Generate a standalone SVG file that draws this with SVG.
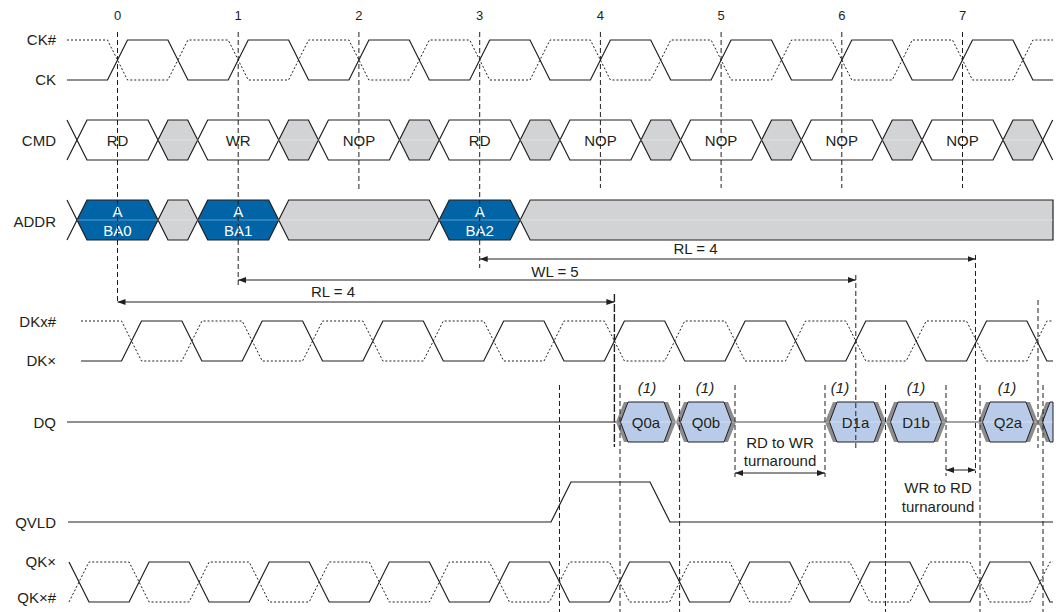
<svg xmlns="http://www.w3.org/2000/svg" width="1056" height="612" viewBox="0 0 1056 612">
<defs>
<style>
text{font-family:"Liberation Sans",Arial,sans-serif;fill:#231f20}
.lbl{font-size:15px;text-anchor:end}
.num{font-size:13px;text-anchor:middle}
.t{font-size:15px;text-anchor:middle}
.tw{font-size:15px;text-anchor:middle;fill:#ffffff}
.it{font-size:15px;text-anchor:middle;font-style:italic}
.sig{fill:none;stroke:#231f20;stroke-width:1.2}
.dot{fill:none;stroke:#231f20;stroke-width:1;stroke-dasharray:2,2}
.vd{fill:none;stroke:#231f20;stroke-width:1;stroke-dasharray:5,3}
.vk{fill:none;stroke:#231f20;stroke-width:1.4;stroke-dasharray:8,2}
.hw{fill:#ffffff;stroke:#231f20;stroke-width:1.2}
.hg{fill:#d1d3d4;stroke:#231f20;stroke-width:1.2}
.hb{fill:#0064a6;stroke:#231f20;stroke-width:1.2}
.qs{fill:#8c8c8c;stroke:none}
.qb{fill:#b8cce9;stroke:#231f20;stroke-width:1}
.arr{fill:none;stroke:#231f20;stroke-width:1;marker-start:url(#ah);marker-end:url(#ah)}
.mid{stroke:#ffffff;stroke-opacity:0.45;stroke-width:0.8}
</style>
<marker id="ah" markerUnits="userSpaceOnUse" markerWidth="8" markerHeight="6" refX="8" refY="3" orient="auto-start-reverse">
<path d="M0,0 L8,3 L0,6 z" fill="#231f20"/>
</marker>
</defs>
<rect width="1056" height="612" fill="#ffffff"/>

<g id="tick-numbers">
<text class="num" x="117.5" y="20">0</text>
<text class="num" x="238.2" y="20">1</text>
<text class="num" x="358.9" y="20">2</text>
<text class="num" x="479.7" y="20">3</text>
<text class="num" x="600.4" y="20">4</text>
<text class="num" x="721.1" y="20">5</text>
<text class="num" x="841.8" y="20">6</text>
<text class="num" x="962.5" y="20">7</text>
</g>

<g id="clock-ck">
<text class="lbl" x="56" y="45">CK#</text>
<text class="lbl" x="56" y="85">CK</text>
<path class="dot" d="M67,40 L107.5,40 L127.5,80 L167.9,80 L187.9,40 L228.2,40 L248.2,80 L288.6,80 L308.6,40 L348.9,40 L368.9,80 L409.3,80 L429.3,40 L469.7,40 L489.7,80 L530,80 L550,40 L590.4,40 L610.4,80 L650.7,80 L670.7,40 L711.1,40 L731.1,80 L771.5,80 L791.5,40 L831.8,40 L851.8,80 L892.2,80 L912.2,40 L952.5,40 L972.5,80 L1012.9,80 L1032.9,40 L1053,40"/>
<path class="sig" d="M67,80 L107.5,80 L127.5,40 L167.9,40 L187.9,80 L228.2,80 L248.2,40 L288.6,40 L308.6,80 L348.9,80 L368.9,40 L409.3,40 L429.3,80 L469.7,80 L489.7,40 L530,40 L550,80 L590.4,80 L610.4,40 L650.7,40 L670.7,80 L711.1,80 L731.1,40 L771.5,40 L791.5,80 L831.8,80 L851.8,40 L892.2,40 L912.2,80 L952.5,80 L972.5,40 L1012.9,40 L1032.9,80 L1053,80"/>
</g>

<g id="cmd">
<text class="lbl" x="56" y="146">CMD</text>
<path class="sig" d="M67,120 L77,140 L67,160 M1042.7,140 L1052.7,120 M1042.7,140 L1052.7,160"/>
<polygon class="hw" points="77,140 87,120 148,120 158,140 148,160 87,160"/>
<polygon class="hg" points="158,140 168,120 187.7,120 197.7,140 187.7,160 168,160"/>
<polygon class="hw" points="197.7,140 207.7,120 268.7,120 278.7,140 268.7,160 207.7,160"/>
<polygon class="hg" points="278.7,140 288.7,120 308.4,120 318.4,140 308.4,160 288.7,160"/>
<polygon class="hw" points="318.4,140 328.4,120 389.4,120 399.4,140 389.4,160 328.4,160"/>
<polygon class="hg" points="399.4,140 409.4,120 429.2,120 439.2,140 429.2,160 409.4,160"/>
<polygon class="hw" points="439.2,140 449.2,120 510.2,120 520.2,140 510.2,160 449.2,160"/>
<polygon class="hg" points="520.2,140 530.2,120 549.9,120 559.9,140 549.9,160 530.2,160"/>
<polygon class="hw" points="559.9,140 569.9,120 630.9,120 640.9,140 630.9,160 569.9,160"/>
<polygon class="hg" points="640.9,140 650.9,120 670.6,120 680.6,140 670.6,160 650.9,160"/>
<polygon class="hw" points="680.6,140 690.6,120 751.6,120 761.6,140 751.6,160 690.6,160"/>
<polygon class="hg" points="761.6,140 771.6,120 791.3,120 801.3,140 791.3,160 771.6,160"/>
<polygon class="hw" points="801.3,140 811.3,120 872.3,120 882.3,140 872.3,160 811.3,160"/>
<polygon class="hg" points="882.3,140 892.3,120 912,120 922,140 912,160 892.3,160"/>
<polygon class="hw" points="922,140 932,120 993,120 1003,140 993,160 932,160"/>
<polygon class="hg" points="1003,140 1013,120 1032.7,120 1042.7,140 1032.7,160 1013,160"/>
<line class="mid" x1="158" y1="140" x2="1042" y2="140"/>
<text class="t" x="117.5" y="146">RD</text>
<text class="t" x="238.2" y="146">WR</text>
<text class="t" x="358.9" y="146">NOP</text>
<text class="t" x="479.7" y="146">RD</text>
<text class="t" x="600.4" y="146">NOP</text>
<text class="t" x="721.1" y="146">NOP</text>
<text class="t" x="841.8" y="146">NOP</text>
<text class="t" x="962.5" y="146">NOP</text>
</g>

<g id="addr">
<text class="lbl" x="56" y="227">ADDR</text>
<path class="sig" d="M67,200 L77,220 L67,240"/>
<polygon class="hb" points="77,220 87,200 148,200 158,220 148,240 87,240"/>
<polygon class="hg" points="158,220 168,200 187.7,200 197.7,220 187.7,240 168,240"/>
<polygon class="hb" points="197.7,220 207.7,200 268.7,200 278.7,220 268.7,240 207.7,240"/>
<polygon class="hg" points="278.7,220 288.7,200 429.2,200 439.2,220 429.2,240 288.7,240"/>
<polygon class="hb" points="439.2,220 449.2,200 510.2,200 520.2,220 510.2,240 449.2,240"/>
<polygon class="hg" points="520.2,220 530.2,200 1053,200 1053,240 530.2,240"/>
<line class="mid" x1="77" y1="220" x2="1053" y2="220"/>
<text class="tw" x="117.5" y="217">A</text>
<text class="tw" x="117.5" y="236">BA0</text>
<text class="tw" x="238.2" y="217">A</text>
<text class="tw" x="238.2" y="236">BA1</text>
<text class="tw" x="479.7" y="217">A</text>
<text class="tw" x="479.7" y="236">BA2</text>
</g>

<g id="dk">
<text class="lbl" x="56" y="327">DKx#</text>
<text class="lbl" x="56" y="366">DK×</text>
<path class="dot" d="M81,321 L121.5,321 L141.5,361 L181.9,361 L201.9,321 L242.2,321 L262.2,361 L302.6,361 L322.6,321 L362.9,321 L382.9,361 L423.3,361 L443.3,321 L483.7,321 L503.7,361 L544,361 L564,321 L604.4,321 L624.4,361 L664.7,361 L684.7,321 L725.1,321 L745.1,361 L785.5,361 L805.5,321 L845.8,321 L865.8,361 L906.2,361 L926.2,321 L966.5,321 L986.5,361 L1026.9,361 L1046.9,321 L1053,321"/>
<path class="sig" d="M81,361 L121.5,361 L141.5,321 L181.9,321 L201.9,361 L242.2,361 L262.2,321 L302.6,321 L322.6,361 L362.9,361 L382.9,321 L423.3,321 L443.3,361 L483.7,361 L503.7,321 L544,321 L564,361 L604.4,361 L624.4,321 L664.7,321 L684.7,361 L725.1,361 L745.1,321 L785.5,321 L805.5,361 L845.8,361 L865.8,321 L906.2,321 L926.2,361 L966.5,361 L986.5,321 L1026.9,321 L1046.9,361 L1053,361"/>
</g>

<g id="dq">
<text class="lbl" x="56" y="428">DQ</text>
<path class="sig" d="M67,422 L616,422 M736,422 L825,422 M946,422 L978,422"/>
<polygon class="qs" points="616,422 624,402 668,402 676,422 668,442 624,442"/>
<polygon class="qb" points="620.5,422 628,402 664,402 671.5,422 664,442 628,442"/>
<polygon class="qs" points="676,422 684,402 728,402 736,422 728,442 684,442"/>
<polygon class="qb" points="680.5,422 688,402 724,402 731.5,422 724,442 688,442"/>
<polygon class="qs" points="825,422 833,402 878,402 886,422 878,442 833,442"/>
<polygon class="qb" points="829.5,422 837,402 874,402 881.5,422 874,442 837,442"/>
<polygon class="qs" points="886,422 894,402 938,402 946,422 938,442 894,442"/>
<polygon class="qb" points="890.5,422 898,402 934,402 941.5,422 934,442 898,442"/>
<polygon class="qs" points="978,422 986,402 1030,402 1038,422 1030,442 986,442"/>
<polygon class="qb" points="982.5,422 990,402 1026,402 1033.5,422 1026,442 990,442"/>
<polygon class="qs" points="1038,422 1046,402 1053,402 1053,442 1046,442"/>
<polygon class="qb" points="1042.5,422 1050,402 1053,402 1053,442 1050,442"/>
<line class="mid" x1="620" y1="422" x2="1053" y2="422"/>
<text class="t" x="646" y="428">Q0a</text>
<text class="t" x="706" y="428">Q0b</text>
<text class="t" x="855.5" y="428">D1a</text>
<text class="t" x="916" y="428">D1b</text>
<text class="t" x="1008" y="428">Q2a</text>
<text class="it" x="647" y="393">(1)</text>
<text class="it" x="705" y="393">(1)</text>
<text class="it" x="840" y="393">(1)</text>
<text class="it" x="916" y="393">(1)</text>
<text class="it" x="1007" y="393">(1)</text>
</g>

<g id="qvld">
<text class="lbl" x="56" y="528">QVLD</text>
<path class="sig" d="M68,522 L551,522 L571,482 L650,482 L670,522 L1053,522"/>
</g>

<g id="qk">
<text class="lbl" x="56" y="567">QK×</text>
<text class="lbl" x="56" y="603">QK×#</text>
<path class="dot" d="M69,602 L89,562 L129.1,562 L149.1,602 L189.1,602 L209.1,562 L249.2,562 L269.2,602 L309.2,602 L329.2,562 L369.3,562 L389.3,602 L429.4,602 L449.4,562 L489.4,562 L509.4,602 L549.5,602 L569.5,562 L609.5,562 L629.5,602 L669.6,602 L689.6,562 L729.7,562 L749.7,602 L789.7,602 L809.7,562 L849.8,562 L869.8,602 L909.8,602 L929.8,562 L969.9,562 L989.9,602 L1030,602 L1050,562 L1053,562"/>
<path class="sig" d="M69,562 L89,602 L129.1,602 L149.1,562 L189.1,562 L209.1,602 L249.2,602 L269.2,562 L309.2,562 L329.2,602 L369.3,602 L389.3,562 L429.4,562 L449.4,602 L489.4,602 L509.4,562 L549.5,562 L569.5,602 L609.5,602 L629.5,562 L669.6,562 L689.6,602 L729.7,602 L749.7,562 L789.7,562 L809.7,602 L849.8,602 L869.8,562 L909.8,562 L929.8,602 L969.9,602 L989.9,562 L1030,562 L1050,602 L1053,602"/>
</g>

<g id="connectors">
<path class="vd" d="M117.5,32 V304 M238.2,32 V287 M358.9,32 V190 M479.7,32 V268 M600.4,32 V188 M721.1,32 V188 M841.8,32 V188 M962.5,32 V188"/>
<path class="vd" d="M855.8,275 V448 M975.5,255 V473 M1038,300 V448 M559.5,385 V612 M620,385 V612 M679.6,385 V612 M735,385 V477 M825,385 V477 M885.5,385 V612 M946,385 V476 M980,385 V612 M1043,385 V612"/>
<path class="vk" d="M614.4,294 V447"/>
<line class="arr" x1="479.7" y1="259" x2="975.5" y2="259"/>
<line class="arr" x1="238.2" y1="280" x2="855.8" y2="280"/>
<line class="arr" x1="117.5" y1="302" x2="614.4" y2="302"/>
<line class="arr" x1="735" y1="473" x2="825" y2="473"/>
<line class="arr" x1="946" y1="470" x2="975.5" y2="470"/>
<text class="t" x="695.5" y="254">RL = 4</text>
<text class="t" x="555" y="277">WL = 5</text>
<text class="t" x="333" y="297">RL = 4</text>
<text class="t" x="780" y="448">RD to WR</text>
<text class="t" x="780" y="466">turnaround</text>
<text class="t" x="938" y="493">WR to RD</text>
<text class="t" x="938" y="512">turnaround</text>
</g>
</svg>
